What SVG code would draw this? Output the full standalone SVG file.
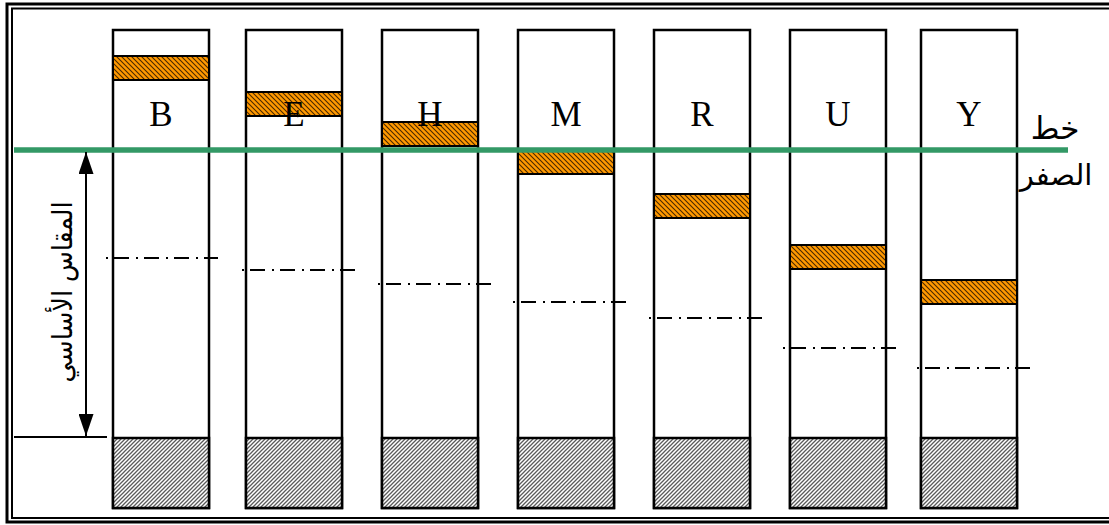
<svg xmlns="http://www.w3.org/2000/svg" width="1109" height="525" viewBox="0 0 1109 525">
  <defs>
    <!-- orange band with dark back-diagonal hatching -->
    <pattern id="orangeHatch" patternUnits="userSpaceOnUse" width="5" height="5">
      <rect width="5" height="5" fill="#ff9900"/>
      <path d="M0,0 L5,5 M-1,4 L1,6 M4,-1 L6,1" stroke="#4a2800" stroke-width="1.1"/>
    </pattern>
    <!-- grey forward-diagonal hatching for the column base -->
    <pattern id="greyHatch" patternUnits="userSpaceOnUse" width="4" height="4">
      <rect width="4" height="4" fill="#ffffff"/>
      <path d="M0,4 L4,0 M-1,1 L1,-1 M3,5 L5,3" stroke="#5a5a5a" stroke-width="1.3"/>
    </pattern>
    <marker id="tip" viewBox="0 0 22 15" refX="22" refY="7.5" markerWidth="22" markerHeight="15" markerUnits="userSpaceOnUse" orient="auto-start-reverse">
      <path d="M0,0 L22,7.5 L0,15 Z" fill="#000"/>
    </marker>
  </defs>
  <style>
    .col { fill: #ffffff; stroke: #000; stroke-width: 2.5; }
    .base { fill: url(#greyHatch); stroke: #000; stroke-width: 2.5; }
    .band { fill: url(#orangeHatch); stroke: #000; stroke-width: 2; }
    .level { stroke: #000; stroke-width: 2; stroke-dasharray: 2 6 15 7; fill: none; }
    .letter { font-family: "Liberation Serif", serif; font-size: 35px; text-anchor: middle; fill: #000; }
    .ar { font-family: "DejaVu Sans", "Noto Sans", sans-serif; fill: #000; }
  </style>

  <!-- double frame -->
  <rect x="7" y="4" width="1110" height="518" fill="none" stroke="#000" stroke-width="3"/>
  <rect x="12" y="8.5" width="1105" height="509.5" fill="none" stroke="#000" stroke-width="2"/>

  <g id="col-B">
    <rect class="col" x="113" y="30" width="96" height="478"/>
    <rect class="base" x="113" y="438" width="96" height="70"/>
    <rect class="band" x="113" y="56" width="96" height="24"/>
    <line class="level" x1="106" y1="258" x2="218" y2="258"/>
    <text class="letter" x="161" y="126">B</text>
  </g>
  <g id="col-E">
    <rect class="col" x="246" y="30" width="96" height="478"/>
    <rect class="base" x="246" y="438" width="96" height="70"/>
    <rect class="band" x="246" y="92" width="96" height="24"/>
    <line class="level" x1="242" y1="270" x2="355" y2="270"/>
    <text class="letter" x="294" y="126">E</text>
  </g>
  <g id="col-H">
    <rect class="col" x="382" y="30" width="96" height="478"/>
    <rect class="base" x="382" y="438" width="96" height="70"/>
    <rect class="band" x="382" y="122" width="96" height="24"/>
    <line class="level" x1="378" y1="284" x2="491" y2="284"/>
    <text class="letter" x="430" y="126">H</text>
  </g>
  <g id="col-M">
    <rect class="col" x="518" y="30" width="96" height="478"/>
    <rect class="base" x="518" y="438" width="96" height="70"/>
    <rect class="band" x="518" y="150" width="96" height="24"/>
    <line class="level" x1="513" y1="302" x2="627" y2="302"/>
    <text class="letter" x="566" y="126">M</text>
  </g>
  <g id="col-R">
    <rect class="col" x="654" y="30" width="96" height="478"/>
    <rect class="base" x="654" y="438" width="96" height="70"/>
    <rect class="band" x="654" y="194" width="96" height="24"/>
    <line class="level" x1="649" y1="318" x2="763" y2="318"/>
    <text class="letter" x="702" y="126">R</text>
  </g>
  <g id="col-U">
    <rect class="col" x="790" y="30" width="96" height="478"/>
    <rect class="base" x="790" y="438" width="96" height="70"/>
    <rect class="band" x="790" y="245" width="96" height="24"/>
    <line class="level" x1="783" y1="348" x2="897" y2="348"/>
    <text class="letter" x="838" y="126">U</text>
  </g>
  <g id="col-Y">
    <rect class="col" x="921" y="30" width="96" height="478"/>
    <rect class="base" x="921" y="438" width="96" height="70"/>
    <rect class="band" x="921" y="280" width="96" height="24"/>
    <line class="level" x1="917" y1="368" x2="1031" y2="368"/>
    <text class="letter" x="969" y="126">Y</text>
  </g>

  <!-- zero line -->
  <g id="zero-line">
    <line x1="14" y1="150" x2="1068" y2="150" stroke="#339966" stroke-width="5.5"/>
    <text class="ar" font-size="31" text-anchor="middle" x="1055" y="139">خط</text>
    <text class="ar" font-size="29" text-anchor="middle" x="1056" y="185">الصفر</text>
  </g>

  <!-- base measure dimension -->
  <g id="connectors">
    <line x1="86" y1="152" x2="86" y2="436" stroke="#000" stroke-width="2" marker-start="url(#tip)" marker-end="url(#tip)"/>
    <line x1="14" y1="437" x2="107" y2="437" stroke="#000" stroke-width="2"/>
  </g>
  <g id="base-label">
    <text class="ar" font-size="28" text-anchor="middle" textLength="181" lengthAdjust="spacingAndGlyphs" transform="translate(72,292) rotate(-90)">المقاس الأساسي</text>
  </g>
</svg>
